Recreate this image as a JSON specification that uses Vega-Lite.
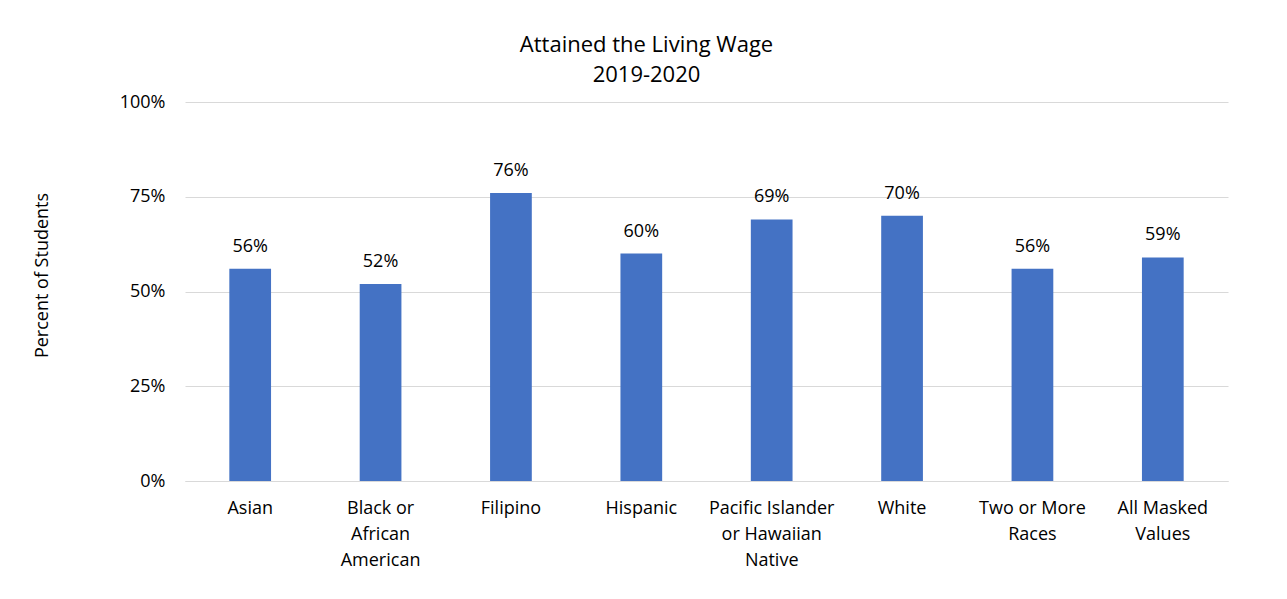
{
  "$schema": "https://vega.github.io/schema/vega-lite/v6.json",
  "autosize": "none",
  "width": 1043,
  "height": 379,
  "padding": {"left": 185, "top": 102, "right": 59, "bottom": 118},
  "background": "white",
  "config": {"font": "Open Sans", "view": {"stroke": null}},
  "title": {
    "text": ["Attained the Living Wage", "2019-2020"],
    "fontSize": 22,
    "fontWeight": "normal",
    "color": "#000000",
    "lineHeight": 30,
    "anchor": "middle",
    "dx": -60,
    "offset": 6
  },
  "data": {
    "values": [
      {"group": "Asian", "pct": 0.56},
      {"group": "Black or African American", "pct": 0.52},
      {"group": "Filipino", "pct": 0.76},
      {"group": "Hispanic", "pct": 0.60},
      {"group": "Pacific Islander or Hawaiian Native", "pct": 0.69},
      {"group": "White", "pct": 0.70},
      {"group": "Two or More Races", "pct": 0.56},
      {"group": "All Masked Values", "pct": 0.59}
    ]
  },
  "encoding": {
    "x": {
      "field": "group",
      "type": "nominal",
      "sort": null,
      "scale": {"paddingInner": 0.68, "paddingOuter": 0.34},
      "axis": {
        "title": null,
        "labelAngle": 0,
        "labelFontSize": 18,
        "labelColor": "#000000",
        "labelPadding": 18,
        "labelLineHeight": 26,
        "ticks": false,
        "domainColor": "#d9d9d9",
        "domainWidth": 1,
        "labelExpr": "datum.value == 'Black or African American' ? ['Black or','African','American'] : datum.value == 'Pacific Islander or Hawaiian Native' ? ['Pacific Islander','or Hawaiian','Native'] : datum.value == 'Two or More Races' ? ['Two or More','Races'] : datum.value == 'All Masked Values' ? ['All Masked','Values'] : datum.value"
      }
    },
    "y": {
      "field": "pct",
      "type": "quantitative",
      "scale": {"domain": [0, 1]},
      "axis": {
        "title": "Percent of Students",
        "titleFontSize": 18,
        "titleFontWeight": "normal",
        "titleColor": "#000000",
        "titlePadding": 68,
        "titleY": 173,
        "values": [0, 0.25, 0.5, 0.75, 1],
        "format": ".0%",
        "labelFontSize": 18,
        "labelColor": "#000000",
        "labelPadding": 20,
        "ticks": false,
        "domain": false,
        "gridColor": "#d9d9d9",
        "gridWidth": 1
      }
    }
  },
  "layer": [
    {"mark": {"type": "bar", "color": "#4472C4"}},
    {
      "mark": {"type": "text", "dy": -22, "fontSize": 18, "color": "#000000"},
      "encoding": {"text": {"field": "pct", "type": "quantitative", "format": ".0%"}}
    }
  ]
}
